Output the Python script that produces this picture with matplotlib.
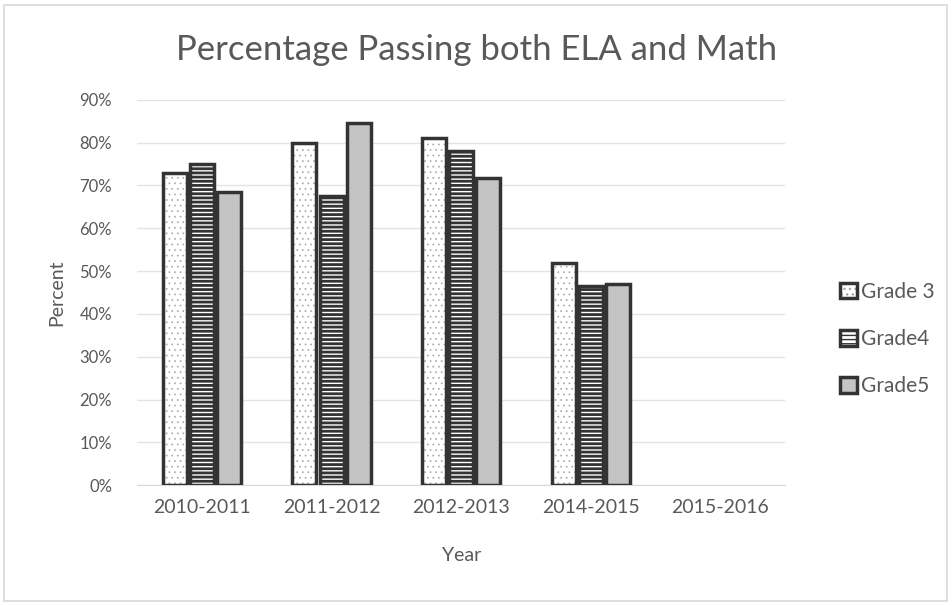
import matplotlib.pyplot as plt
import numpy as np
from matplotlib.ticker import PercentFormatter

plt.rcParams['font.family'] = ['Lato', 'DejaVu Sans']

years = ['2010-2011', '2011-2012', '2012-2013', '2014-2015', '2015-2016']
grade3 = [0.73, 0.80, 0.81, 0.52, np.nan]
grade4 = [0.75, 0.675, 0.78, 0.465, np.nan]
grade5 = [0.685, 0.845, 0.717, 0.47, np.nan]
labels = ['Grade 3', 'Grade4', 'Grade5']

edge = '#333333'
txt = '#595959'

fig = plt.figure(figsize=(9.53, 6.05), dpi=100)
ax = fig.add_axes([0.144, 0.198, 0.68, 0.637])

x = np.arange(len(years))
w = 0.185
step = 0.21
styles = [
    dict(facecolor='white', hatch='...', hatch_lw=0.5, hatch_col='#a8a8a8'),
    dict(facecolor='white', hatch='----', hatch_lw=2.0, hatch_col=edge),
    dict(facecolor='#c4c4c4', hatch=None, hatch_lw=1.0, hatch_col=edge),
]
handles = []
for i, (vals, st) in enumerate(zip([grade3, grade4, grade5], styles)):
    plt.rcParams['hatch.linewidth'] = st['hatch_lw']
    plt.rcParams['hatch.color'] = st['hatch_col']
    bars = ax.bar(x + (i - 1) * step, vals, width=w, linewidth=2.5,
                  facecolor=st['facecolor'], hatch=st['hatch'], edgecolor=edge,
                  label=labels[i], zorder=3)
    for b in bars:
        b._hatch_color = plt.matplotlib.colors.to_rgba(st['hatch_col'])
        if hasattr(b, 'set_hatch_linewidth'):
            b.set_hatch_linewidth(st['hatch_lw'])
    handles.append(bars)

ax.set_ylim(0, 0.9)
ax.set_xlim(-0.5, len(years) - 0.5)
ax.set_yticks(np.arange(0, 0.91, 0.1))
ax.yaxis.set_major_formatter(PercentFormatter(1.0, decimals=0))
ax.set_xticks(x)
ax.set_xticklabels(years)
ax.grid(axis='y', color='#e3e3e3', linewidth=1, zorder=0)
for s in ax.spines.values():
    s.set_visible(False)
ax.spines['bottom'].set_visible(True)
ax.spines['bottom'].set_color('#d9d9d9')
ax.tick_params(length=0, colors=txt)
ax.tick_params(axis='x', labelsize=14, pad=10)
ax.tick_params(axis='y', labelsize=12, pad=18)

ax.set_title('Percentage Passing both ELA and Math', fontsize=25, color=txt, pad=29, x=0.523)
ax.set_ylabel('Percent', fontsize=14, color=txt, labelpad=10)
ax.set_xlabel('Year', fontsize=14, color=txt, labelpad=22)

leg = fig.legend(handles=handles, labels=labels, loc='center left',
                 bbox_to_anchor=(0.862, 0.44), frameon=False, fontsize=15,
                 handlelength=0.8, handleheight=0.8, handletextpad=0.2,
                 labelspacing=1.3, labelcolor=txt)

# outer chart border
fig.patches.append(plt.Rectangle((0.004, 0.006), 0.99, 0.985, transform=fig.transFigure,
                                 fill=False, edgecolor='#d9d9d9', linewidth=1.2))

fig.savefig('out.png', dpi=100)
